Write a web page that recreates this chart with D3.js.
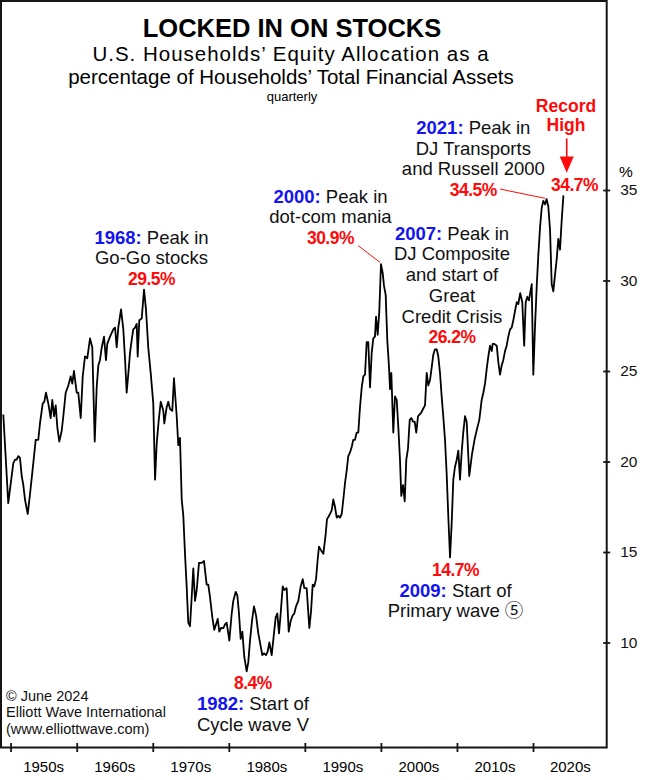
<!DOCTYPE html>
<html>
<head>
<meta charset="utf-8">
<script src="https://cdn.jsdelivr.net/npm/d3@7"></script>
<style>
  body { margin: 0; background: #fff; }
  svg { display: block; font-family: "Liberation Sans", Arial, Helvetica, "Noto Sans CJK JP", "DejaVu Sans", sans-serif; }
</style>
</head>
<body>
<div id="chart"></div>
<script>
// quarterly equity share of household financial assets (%)
const years = [
  1950.35, 1951.0, 1951.66, 1951.89, 1952.11, 1952.32, 1952.54, 1952.77, 1952.98, 1953.2,
  1953.56, 1953.86, 1954.29, 1954.61, 1954.95, 1955.17, 1955.53, 1955.74, 1955.96, 1956.27,
  1956.58, 1956.79, 1957.02, 1957.24, 1957.45, 1957.71, 1958.03, 1958.24, 1958.55, 1958.9,
  1959.21, 1959.42, 1959.64, 1960.0, 1960.21, 1960.53, 1960.79, 1961.09, 1961.39, 1961.75,
  1962.05, 1962.37, 1962.63, 1962.84, 1963.06, 1963.29, 1963.59, 1963.85, 1964.02, 1964.38,
  1964.81, 1965.04, 1965.26, 1965.47, 1965.83, 1966.13, 1966.39, 1966.57, 1966.84, 1967.01,
  1967.23, 1967.44, 1967.67, 1967.89, 1968.02, 1968.23, 1968.55, 1968.85, 1969.11, 1969.41,
  1969.73, 1970.07, 1970.3, 1970.52, 1970.79, 1971.05, 1971.39, 1971.52, 1971.83, 1972.04,
  1972.27, 1972.57, 1972.79, 1973.15, 1973.36, 1973.58, 1973.81, 1974.02, 1974.24, 1974.46,
  1974.67, 1974.9, 1975.12, 1975.33, 1975.56, 1975.78, 1976.08, 1976.44, 1976.74, 1977.09,
  1977.3, 1977.53, 1977.83, 1978.09, 1978.32, 1978.54, 1978.75, 1978.97, 1979.28, 1979.5,
  1979.72, 1980.07, 1980.38, 1980.59, 1980.91, 1981.12, 1981.34, 1981.56, 1981.78, 1982.04,
  1982.35, 1982.56, 1982.79, 1983.05, 1983.31, 1983.58, 1983.88, 1984.19, 1984.4, 1984.63,
  1984.89, 1985.11, 1985.33, 1985.64, 1985.94, 1986.17, 1986.38, 1986.6, 1986.82, 1987.09,
  1987.3, 1987.61, 1987.88, 1988.14, 1988.4, 1988.61, 1988.84, 1989.14, 1989.45, 1989.72,
  1989.93, 1990.24, 1990.59, 1990.81, 1991.03, 1991.24, 1991.47, 1991.69, 1991.86, 1992.12,
  1992.43, 1992.72, 1992.91, 1993.18, 1993.53, 1993.74, 1993.96, 1994.19, 1994.4, 1994.62,
  1994.85, 1995.06, 1995.28, 1995.5, 1995.71, 1995.94, 1996.16, 1996.37, 1996.59, 1996.82,
  1997.03, 1997.25, 1997.48, 1997.69, 1997.91, 1998.13, 1998.34, 1998.57, 1998.79, 1999.0,
  1999.22, 1999.36, 1999.58, 1999.79, 2000.01, 2000.24, 2000.41, 2000.63, 2000.84, 2001.07,
  2001.2, 2001.37, 2001.63, 2001.85, 2002.08, 2002.29, 2002.51, 2002.68, 2002.91, 2003.13,
  2003.34, 2003.56, 2003.79, 2004.0, 2004.22, 2004.44, 2004.65, 2004.88, 2005.1, 2005.31,
  2005.54, 2005.8, 2006.02, 2006.23, 2006.46, 2006.68, 2006.89, 2007.11, 2007.34, 2007.55,
  2007.77, 2007.99, 2008.2, 2008.43, 2008.65, 2008.86, 2009.09, 2009.31, 2009.52, 2009.74,
  2009.97, 2010.18, 2010.4, 2010.62, 2010.83, 2011.06, 2011.28, 2011.62, 2011.98, 2012.31,
  2012.64, 2012.94, 2013.25, 2013.47, 2013.69, 2013.91, 2014.12, 2014.35, 2014.57, 2014.7,
  2014.91, 2015.23, 2015.44, 2015.66, 2015.88, 2016.09, 2016.32, 2016.54, 2016.75, 2016.98,
  2017.2, 2017.41, 2017.63, 2017.86, 2018.07, 2018.32, 2018.59, 2018.84, 2019.04, 2019.25,
  2019.47, 2019.83, 2020.04, 2020.26, 2020.49, 2020.7, 2020.92, 2021.14, 2021.35, 2021.58,
  2021.78, 2022.01, 2022.24, 2022.46, 2022.67, 2022.89, 2023.12, 2023.33, 2023.55, 2023.77,
  2024.0
];
const share = [
  22.6, 17.7, 19.9, 20.1, 20.1, 20.3, 20.2, 19.2, 18.7, 17.9,
  17.1, 18.2, 19.9, 21.2, 21.2, 22.1, 23.2, 23.3, 23.8, 23.2,
  22.4, 23.4, 22.5, 23.1, 21.9, 21.1, 21.7, 22.5, 23.8, 24.2,
  24.7, 24.3, 25.0, 23.8, 23.8, 22.4, 24.7, 25.8, 25.7, 26.8,
  26.3, 21.1, 24.1, 25.3, 25.6, 26.3, 26.9, 25.6, 26.5, 26.9,
  27.3, 27.4, 26.3, 27.4, 28.4, 27.3, 25.4, 23.8, 25.1, 26.0,
  26.7, 27.3, 27.4, 27.6, 25.8, 27.8, 27.9, 29.5, 28.4, 26.3,
  24.9, 23.2, 19.0, 21.0, 22.3, 23.3, 22.8, 22.1, 23.0, 23.3,
  22.9, 22.8, 24.6, 22.5, 20.9, 21.3, 17.9, 17.0, 14.9, 13.1,
  11.1, 10.9, 12.5, 14.1, 12.3, 12.9, 14.4, 14.4, 14.5, 13.2,
  13.2, 12.5, 11.4, 10.7, 11.0, 11.3, 10.6, 10.8, 10.8, 11.0,
  11.1, 10.1, 11.6, 12.3, 12.8, 12.6, 11.6, 10.2, 10.6, 9.2,
  8.4, 8.9, 10.1, 11.2, 12.0, 11.5, 10.5, 9.8, 9.3, 9.4,
  9.3, 9.5, 10.0, 9.3, 10.5, 11.4, 11.6, 10.5, 11.6, 13.1,
  12.9, 13.0, 10.6, 11.2, 11.5, 11.6, 12.0, 12.3, 13.1, 13.5,
  13.0, 13.0, 10.8, 11.7, 13.2, 13.1, 13.5, 14.6, 15.3, 15.1,
  14.9, 15.9, 16.8, 17.0, 17.3, 17.9, 17.5, 16.9, 17.0, 16.9,
  17.1, 17.9, 18.8, 19.5, 20.3, 20.5, 20.8, 21.2, 21.2, 21.6,
  21.6, 23.0, 24.1, 24.7, 24.8, 26.6, 26.6, 24.1, 26.0, 26.8,
  26.9, 28.0, 27.0, 28.3, 30.9, 30.4, 29.7, 29.2, 26.7, 25.2,
  24.0, 24.9, 21.6, 23.6, 23.4, 21.9, 20.1, 18.1, 18.7, 17.8,
  20.1, 20.7, 22.3, 22.4, 22.2, 22.2, 21.6, 22.5, 22.6, 22.7,
  22.9, 23.1, 24.9, 24.2, 24.5, 25.2, 25.9, 26.2, 26.2, 25.8,
  24.9, 23.6, 22.5, 21.2, 19.3, 17.0, 14.7, 16.6, 19.0, 19.7,
  20.1, 20.6, 19.0, 20.5, 21.6, 22.5, 22.2, 19.2, 20.4, 21.2,
  21.8, 22.3, 23.4, 23.8, 24.3, 25.1, 25.8, 26.4, 26.1, 26.5,
  26.5, 26.4, 25.5, 24.8, 25.3, 25.6, 26.1, 26.4, 26.9, 27.3,
  27.4, 27.8, 28.3, 28.8, 28.7, 29.3, 28.8, 26.4, 28.8, 29.1,
  28.9, 29.8, 24.8, 27.4, 29.7, 31.4, 32.9, 34.0, 34.4, 34.2,
  34.5, 34.1, 32.8, 29.8, 29.4, 30.3, 31.2, 32.3, 31.7, 33.3,
  34.7
];

const decadeTicks = [1951.3, 1960, 1970, 1980, 1990, 2000, 2010, 2020];
const decadeLabels = ["1950s", "1960s", "1970s", "1980s", "1990s", "2000s", "2010s", "2020s"];
const pctTicks = [10, 15, 20, 25, 30, 35];

const titleText = "LOCKED IN ON STOCKS";
const subtitleLines = ["U.S. Households\u2019 Equity Allocation as a", "percentage of Households\u2019 Total Financial Assets"];
const noteText = "quarterly";
const creditLines = ["\u00a9 June 2024", "Elliott Wave International", "(www.elliottwave.com)"];

// annotation text: y = blue year, t = plain, p = red percentage
const notes1968 = [[["1968:", "y"], [" Peak in", "t"]], [["Go-Go stocks", "t"]], [["29.5%", "p"]]];
const notes2000 = [[["2000:", "y"], [" Peak in", "t"]], [["dot-com mania", "t"]], [["30.9%", "p"]]];
const notes2007 = [[["2007:", "y"], [" Peak in", "t"]], [["DJ Composite", "t"]], [["and start of", "t"]],
                   [["Great", "t"]], [["Credit Crisis", "t"]], [["26.2%", "p"]]];
const notes2021 = [[["2021:", "y"], [" Peak in", "t"]], [["DJ Transports", "t"]], [["and Russell 2000", "t"]], [["34.5%", "p"]]];
const notes2009 = [[["14.7%", "p"]], [["2009:", "y"], [" Start of", "t"]], [["Primary wave \u2464", "t"]]];
const notes1982 = [[["8.4%", "p"]], [["1982:", "y"], [" Start of", "t"]], [["Cycle wave V", "t"]]];
const recordLines = ["Record", "High"];
const recordPct = "34.7%";

function drawChart() {
    const width = 650;
    const height = 780;
    const blue = "#1414f0";
    const red = "#ff0a0a";

    const svg = d3.select("#chart")
        .append("svg")
        .attr("width", width)
        .attr("height", height)
        .attr("viewBox", [0, 0, width, height]);

    svg.append("rect").attr("width", width).attr("height", height).attr("fill", "#fff");

    const x = d3.scaleLinear().domain([1960, 2020]).range([76.7, 533]);
    const y = d3.scaleLinear().domain([10, 35]).range([642.5, 190]);
    const frameRight = 606.7, frameBottom = 747.5;

    // title block
    svg.append("text")
        .attr("x", 292).attr("y", 37)
        .attr("text-anchor", "middle")
        .attr("font-size", 25.5).attr("font-weight", "bold")
        .text(titleText);
    svg.selectAll(".sub")
        .data(subtitleLines)
        .join("text")
        .attr("class", "sub")
        .attr("x", 291).attr("y", (d, i) => 61 + i * 23)
        .attr("text-anchor", "middle")
        .attr("font-size", 20.5)
        .attr("letter-spacing", (d, i) => i === 0 ? 1 : null)
        .text(d => d);
    svg.append("text")
        .attr("x", 292).attr("y", 101)
        .attr("text-anchor", "middle")
        .attr("font-size", 13)
        .text(noteText);

    // the series
    const data = d3.zip(years, share);
    const line = d3.line().x(d => x(d[0])).y(d => y(d[1]));
    svg.append("path")
        .datum(data)
        .attr("fill", "none")
        .attr("stroke", "#000")
        .attr("stroke-width", 1.8)
        .attr("stroke-linejoin", "round")
        .attr("d", line);

    // frame
    svg.append("rect")
        .attr("x", 1).attr("y", 1)
        .attr("width", frameRight - 1).attr("height", frameBottom - 1)
        .attr("fill", "none")
        .attr("stroke", "#151515")
        .attr("stroke-width", 2);

    // right axis, ticks cross the frame
    const yAxis = svg.append("g")
        .attr("transform", `translate(${frameRight},0)`)
        .call(d3.axisRight(y).tickValues(pctTicks).tickSize(3.5).tickPadding(10));
    yAxis.select(".domain").remove();
    yAxis.selectAll(".tick line").attr("x1", -3.5).attr("stroke", "#151515").attr("stroke-width", 1.8);
    yAxis.selectAll(".tick text")
        .attr("font-size", 15.5).attr("font-family", null).attr("fill", "#111");
    yAxis.attr("font-family", null);
    svg.append("text")
        .attr("x", 619).attr("y", y(35) - 13)
        .attr("font-size", 15.5)
        .text("%");

    // bottom axis
    const xAxis = svg.append("g")
        .attr("transform", `translate(0,${frameBottom})`)
        .call(d3.axisBottom(x).tickValues(decadeTicks).tickFormat("").tickSize(4.5));
    xAxis.select(".domain").remove();
    xAxis.attr("font-family", null);
    xAxis.selectAll(".tick line").attr("y1", -4.5).attr("stroke", "#151515").attr("stroke-width", 1.8);

    const tickPos = decadeTicks.map(x).concat([frameRight + 1]);
    svg.selectAll(".decade")
        .data(decadeLabels)
        .join("text")
        .attr("class", "decade")
        .attr("x", (d, i) => (tickPos[i] + tickPos[i + 1]) / 2)
        .attr("y", 772)
        .attr("text-anchor", "middle")
        .attr("font-size", 15)
        .text(d => d);

    // annotations
    function nearest(yr) {
        return d3.minIndex(years, v => Math.abs(v - yr));
    }
    function block(yr, dx, dyFirst, lines) {
        const i = nearest(yr);
        const px = x(years[i]) + dx;
        const py = y(share[i]) + dyFirst;
        const t = svg.append("g");
        lines.forEach((segs, k) => {
            const txt = t.append("text")
                .attr("x", px).attr("y", py + k * 20.7)
                .attr("text-anchor", "middle");
            segs.forEach(([s, kind]) => {
                txt.append("tspan")
                    .attr("font-size", kind === "p" ? 17.5 : 18.5)
                    .attr("font-weight", kind === "t" ? null : "bold")
                    .attr("letter-spacing", kind === "p" ? -0.5 : null)
                    .attr("fill", kind === "y" ? blue : kind === "p" ? red : "#111")
                    .text(s);
            });
        });
        return i;
    }
    function leader(i, x1, y1, x2, y2) {
        svg.append("line")
            .attr("x1", x(years[i]) + x1).attr("y1", y(share[i]) + y1)
            .attr("x2", x(years[i]) + x2).attr("y2", y(share[i]) + y2)
            .attr("stroke", red).attr("stroke-width", 1);
    }

    block(1968.85, 7.5, -45.9, notes1968);
    const i2000 = block(2000.0, -50.5, -61.6, notes2000);
    leader(i2000, -22.7, -18.5, -1, -1.9);
    block(2007.1, 17, -109.5, notes2007);
    const i2021 = block(2021.78, -73.2, -65.1, notes2021);
    leader(i2021, -46.5, -10, -1.5, -0.7);
    block(2009.09, 5.5, 18.6, notes2009);
    block(1982.35, 6.3, 17.8, notes1982);

    // record high
    const last = years.length - 1;
    const lx = x(years[last]), ly = y(share[last]);
    svg.selectAll(".rec")
        .data(recordLines)
        .join("text")
        .attr("class", "rec")
        .attr("x", lx + 2.6).attr("y", (d, k) => ly - 83.7 + k * 19)
        .attr("text-anchor", "middle")
        .attr("font-size", 17.5).attr("font-weight", "bold")
        .attr("fill", red)
        .text(d => d);
    svg.append("line")
        .attr("x1", lx + 3.3).attr("x2", lx + 3.3)
        .attr("y1", ly - 57).attr("y2", ly - 38)
        .attr("stroke", red).attr("stroke-width", 1.6);
    svg.append("path")
        .attr("d", `M${lx + 3.3 - 7},${ly - 39} L${lx + 3.3 + 7},${ly - 39} L${lx + 3.3},${ly - 22.7} Z`)
        .attr("fill", red);
    svg.append("text")
        .attr("x", lx + 11.1).attr("y", ly - 4.4)
        .attr("text-anchor", "middle")
        .attr("font-size", 17.5).attr("font-weight", "bold")
        .attr("letter-spacing", -0.5)
        .attr("fill", red)
        .text(recordPct);

    // credit
    svg.selectAll(".credit")
        .data(creditLines)
        .join("text")
        .attr("class", "credit")
        .attr("x", 6).attr("y", (d, k) => 700.7 + k * 16.7)
        .attr("font-size", 14.5)
        .attr("fill", "#111")
        .text(d => d);
}

document.addEventListener('DOMContentLoaded', () => {
    drawChart();
});
</script>
</body>
</html>
